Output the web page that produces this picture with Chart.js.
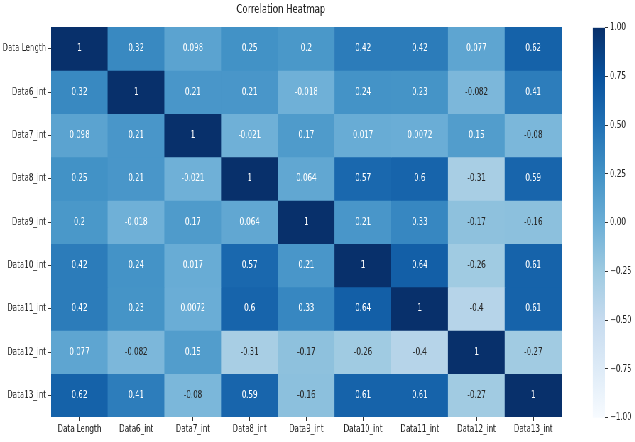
<!DOCTYPE html>
<html>
<head>
<meta charset="utf-8">
<script src="https://cdn.jsdelivr.net/npm/chart.js@4.4.1/dist/chart.umd.min.js"></script>
<style>
body { margin: 0; background: #fff; }
#wrap { position: relative; width: 635px; height: 442px; overflow: hidden; }
/* the reference is squeezed sideways, so draw wide and squeeze it the same way */
#stage { position: absolute; left: 0; top: 0; width: 910px; height: 442px; transform: scaleX(0.71); transform-origin: 0 0; }
#heat { position: absolute; left: 0; top: 0; }
#bar { position: absolute; left: 800px; top: 0; }
</style>
</head>
<body>
<div id="wrap"><div id="stage">
<canvas id="heat" width="862" height="442"></canvas>
<canvas id="bar" width="110" height="442"></canvas>
</div></div>
<script>
var labels = ["Data Length", "Data6_int", "Data7_int", "Data8_int", "Data9_int", "Data10_int", "Data11_int", "Data12_int", "Data13_int"];

var rowDataLength = [1, 0.32, 0.098, 0.25, 0.2, 0.42, 0.42, 0.077, 0.62];
var rowData6 = [0.32, 1, 0.21, 0.21, -0.018, 0.24, 0.23, -0.082, 0.41];
var rowData7 = [0.098, 0.21, 1, -0.021, 0.17, 0.017, 0.0072, 0.15, -0.08];
var rowData8 = [0.25, 0.21, -0.021, 1, 0.064, 0.57, 0.6, -0.31, 0.59];
var rowData9 = [0.2, -0.018, 0.17, 0.064, 1, 0.21, 0.33, -0.17, -0.16];
var rowData10 = [0.42, 0.24, 0.017, 0.57, 0.21, 1, 0.64, -0.26, 0.61];
var rowData11 = [0.42, 0.23, 0.0072, 0.6, 0.33, 0.64, 1, -0.4, 0.61];
var rowData12 = [0.077, -0.082, 0.15, -0.31, -0.17, -0.26, -0.4, 1, -0.27];
var rowData13 = [0.62, 0.41, -0.08, 0.59, -0.16, 0.61, 0.61, -0.27, 1];

var matrix = [rowDataLength, rowData6, rowData7, rowData8, rowData9, rowData10, rowData11, rowData12, rowData13];

var colorbarRange = [-1, 1];
var colorbarStep = 0.25;

var font = '"DejaVu Sans"';

// matplotlib Blues
var blues = [[247,251,255],[222,235,247],[198,219,239],[158,202,225],[107,174,214],[66,146,198],[33,113,181],[8,81,156],[8,48,107]];

function bluesRgb(val) {
    var t = (val + 1) / 2 * 8;
    var i = Math.max(0, Math.min(7, Math.floor(t)));
    var f = t - i;
    return blues[i].map(function (c, k) { return c + (blues[i + 1][k] - c) * f; });
}

function cellColor(val) {
    var c = bluesRgb(val);
    return "rgb(" + Math.round(c[0]) + "," + Math.round(c[1]) + "," + Math.round(c[2]) + ")";
}

// same rule seaborn uses to pick the annotation colour
function textColor(val) {
    var c = bluesRgb(val).map(function (x) {
        x = x / 255;
        return x <= 0.03928 ? x / 12.92 : Math.pow((x + 0.055) / 1.055, 2.4);
    });
    var lum = 0.2126 * c[0] + 0.7152 * c[1] + 0.0722 * c[2];
    return lum > 0.408 ? "#262626" : "#ffffff";
}

function fmt(v) {
    return String(Number(v.toPrecision(2)));
}

var datasets = matrix.map(function (row, r) {
    return {
        label: labels[r],
        data: row.map(function () { return [r, r + 1]; }),
        backgroundColor: row.map(cellColor),
        borderWidth: 0,
        barPercentage: 1,
        categoryPercentage: 1,
        grouped: false
    };
});

var annotate = {
    id: "annotate",
    afterDatasetsDraw: function (chart) {
        var ctx = chart.ctx;
        ctx.save();
        ctx.font = "10px " + font;
        ctx.textAlign = "center";
        ctx.textBaseline = "middle";
        chart.data.datasets.forEach(function (ds, r) {
            chart.getDatasetMeta(r).data.forEach(function (bar, c) {
                var v = matrix[r][c];
                ctx.fillStyle = textColor(v);
                ctx.fillText(fmt(v), bar.x, (bar.y + bar.base) / 2);
            });
        });
        ctx.restore();
    }
};

new Chart(document.getElementById("heat"), {
    type: "bar",
    data: { labels: labels, datasets: datasets },
    plugins: [annotate],
    options: {
        responsive: false,
        animation: false,
        layout: { padding: { left: 0, right: 71, top: 0, bottom: 0 } },
        plugins: {
            legend: { display: false },
            tooltip: { enabled: false },
            title: {
                display: true,
                text: "Correlation Heatmap",
                color: "#222",
                font: { family: font, size: 12, weight: "normal" },
                padding: { top: 3, bottom: 9.6 }
            }
        },
        scales: {
            x: {
                type: "category",
                grid: { display: true, drawOnChartArea: false, drawTicks: true, tickLength: 4, offset: false, color: "#333" },
                border: { display: false },
                ticks: { color: "#222", font: { family: font, size: 10 }, padding: 2, maxRotation: 0, autoSkip: false },
                afterFit: function (s) { s.height = 25; }
            },
            y: {
                type: "linear",
                min: 0,
                max: 9,
                reverse: true,
                grid: { display: true, drawOnChartArea: false, drawTicks: true, tickLength: 4, color: "#333" },
                border: { display: false },
                afterBuildTicks: function (s) {
                    s.ticks = labels.map(function (l, i) { return { value: i + 0.5 }; });
                },
                ticks: {
                    color: "#222",
                    font: { family: font, size: 10 },
                    padding: 3,
                    callback: function (v) { return labels[Math.floor(v)]; }
                },
                afterFit: function (s) { s.width = 72; }
            }
        }
    }
});

new Chart(document.getElementById("bar"), {
    type: "bar",
    data: {
        labels: ["cb"],
        datasets: [{
            data: [colorbarRange],
            borderWidth: 0,
            barPercentage: 1,
            categoryPercentage: 1,
            backgroundColor: function (ctx) {
                var chart = ctx.chart;
                if (!chart.chartArea) return null;
                var ys = chart.scales.y;
                var g = chart.ctx.createLinearGradient(0, ys.getPixelForValue(colorbarRange[0]), 0, ys.getPixelForValue(colorbarRange[1]));
                blues.forEach(function (c, i) {
                    g.addColorStop(i / 8, "rgb(" + c.join(",") + ")");
                });
                return g;
            }
        }]
    },
    options: {
        responsive: false,
        animation: false,
        layout: { padding: { left: 34.8, right: 0, top: 27.7, bottom: 24.3 } },
        plugins: { legend: { display: false }, tooltip: { enabled: false } },
        scales: {
            x: { display: false },
            y: {
                position: "right",
                min: colorbarRange[0],
                max: colorbarRange[1],
                grid: { display: true, drawOnChartArea: false, drawTicks: true, tickLength: 4, color: "#333" },
                border: { display: false },
                ticks: {
                    stepSize: colorbarStep,
                    color: "#222",
                    font: { family: font, size: 10 },
                    padding: 3,
                    callback: function (v) { return v.toFixed(2).replace("-", "\u2212"); }
                },
                afterFit: function (s) { s.width = 58; }
            }
        }
    }
});
</script>
</body>
</html>
